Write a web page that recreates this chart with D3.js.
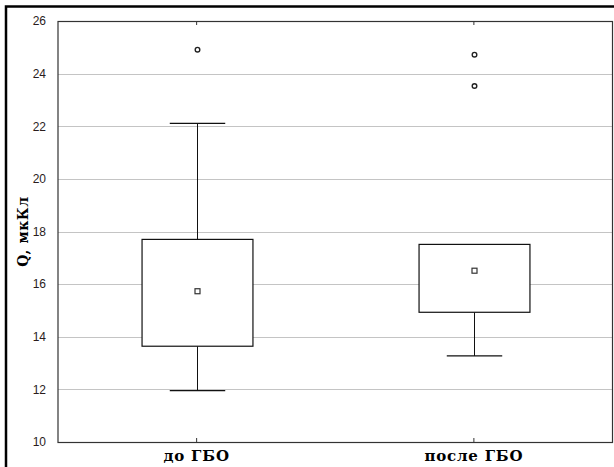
<!DOCTYPE html>
<html>
<head>
<meta charset="utf-8">
<script src="https://cdn.jsdelivr.net/npm/d3@7"></script>
<style>
  html, body { margin: 0; padding: 0; background: #fff; }
  svg { display: block; }
</style>
</head>
<body>
<svg id="chart" width="614" height="467"></svg>
<script>
const categories = ["до ГБО", "после ГБО"];
const q1 = [13.64, 14.93];
const q3 = [17.70, 17.51];
const medians = [15.73, 16.51];
const whiskerLow = [11.95, 13.27];
const whiskerHigh = [22.11, 17.51];
const outliers = [[24.91], [24.72, 23.53]];
const yTicks = [10, 12, 14, 16, 18, 20, 22, 24, 26];
const yLabel = "Q, мкКл";

(function () {
const svg = d3.select("#chart");
const pL = 58, pR = 612.5, pT = 21, pB = 442;

// outer frame
svg.append("rect").attr("x", 6).attr("y", 6.5).attr("width", 640).attr("height", 500)
  .attr("fill", "none").attr("stroke", "#000").attr("stroke-width", 2.5);

const x = d3.scaleBand().domain(categories).range([pL, pR]);
const y = d3.scaleLinear().domain([10, 26]).range([pB, pT]);

// gridlines
svg.append("g").selectAll("line").data(yTicks.slice(1, -1)).join("line")
  .attr("x1", pL).attr("x2", pR)
  .attr("y1", d => Math.round(y(d)) + 0.5).attr("y2", d => Math.round(y(d)) + 0.5)
  .attr("stroke", "#c4c4c4").attr("stroke-width", 1);

// plot frame
svg.append("rect").attr("x", pL).attr("y", pT + 0.5).attr("width", pR - pL).attr("height", pB - pT)
  .attr("fill", "none").attr("stroke", "#333").attr("stroke-width", 1.2);

// y axis tick labels
const yAxis = d3.axisLeft(y).tickValues(yTicks).tickSize(0).tickPadding(12);
const gy = svg.append("g").attr("transform", `translate(${pL},0)`).call(yAxis);
gy.select(".domain").remove();
gy.selectAll("text").attr("font-family", "Liberation Sans, Arial, sans-serif")
  .attr("font-size", 12).attr("fill", "#2a1c1c");

// x axis ticks (inside, top and bottom)
const xb = d3.axisBottom(x).tickSize(-4).tickPadding(10);
const gx = svg.append("g").attr("transform", `translate(0,${pB})`).call(xb);
gx.select(".domain").remove();
gx.selectAll("line").attr("stroke", "#333");
gx.selectAll("text").attr("font-family", "DejaVu Serif, serif")
  .attr("font-weight", "bold").attr("font-size", 15).attr("letter-spacing", 0.8)
  .attr("fill", "#000").attr("y", 8).attr("dy", "0.71em");
const xt = d3.axisTop(x).tickSize(-4).tickFormat("");
const gxt = svg.append("g").attr("transform", `translate(0,${pT})`).call(xt);
gxt.select(".domain").remove();
gxt.selectAll("line").attr("stroke", "#333");

// y label
svg.append("text")
  .attr("transform", `translate(28,${(pT + pB) / 2}) rotate(-90)`)
  .attr("text-anchor", "middle")
  .attr("font-family", "DejaVu Serif, serif")
  .attr("font-weight", "bold").attr("font-size", 14).attr("letter-spacing", 0.6)
  .text(yLabel);

const boxW = x.bandwidth() * 0.4;
const capW = boxW / 2;
const data = categories.map((c, i) => ({
  c, q1: q1[i], q3: q3[i], med: medians[i], lo: whiskerLow[i], hi: whiskerHigh[i], out: outliers[i]
}));

const g = svg.append("g");
data.forEach(d => {
  const cx = Math.round(x(d.c) + x.bandwidth() / 2) + 0.5;
  if (d.hi > d.q3) {
    g.append("line").attr("x1", cx).attr("x2", cx).attr("y1", y(d.q3)).attr("y2", y(d.hi)).attr("stroke", "#111");
    g.append("line").attr("x1", cx - capW / 2).attr("x2", cx + capW / 2).attr("y1", y(d.hi)).attr("y2", y(d.hi)).attr("stroke", "#111").attr("stroke-width", 1.3);
  }
  if (d.lo < d.q1) {
    g.append("line").attr("x1", cx).attr("x2", cx).attr("y1", y(d.q1)).attr("y2", y(d.lo)).attr("stroke", "#111");
    g.append("line").attr("x1", cx - capW / 2).attr("x2", cx + capW / 2).attr("y1", y(d.lo)).attr("y2", y(d.lo)).attr("stroke", "#111").attr("stroke-width", 1.3);
  }
  g.append("rect").attr("x", cx - boxW / 2).attr("y", y(d.q3)).attr("width", boxW).attr("height", y(d.q1) - y(d.q3))
    .attr("fill", "#fff").attr("stroke", "#111").attr("stroke-width", 1.2);
  g.append("rect").attr("x", cx - 2.5).attr("y", y(d.med) - 2.5).attr("width", 5).attr("height", 5)
    .attr("fill", "#fff").attr("stroke", "#333").attr("stroke-width", 1.2);
  d.out.forEach(v => {
    g.append("circle").attr("cx", cx).attr("cy", y(v)).attr("r", 2.3)
      .attr("fill", "#fff").attr("stroke", "#222").attr("stroke-width", 1.4);
  });
});
})();
</script>
</body>
</html>
